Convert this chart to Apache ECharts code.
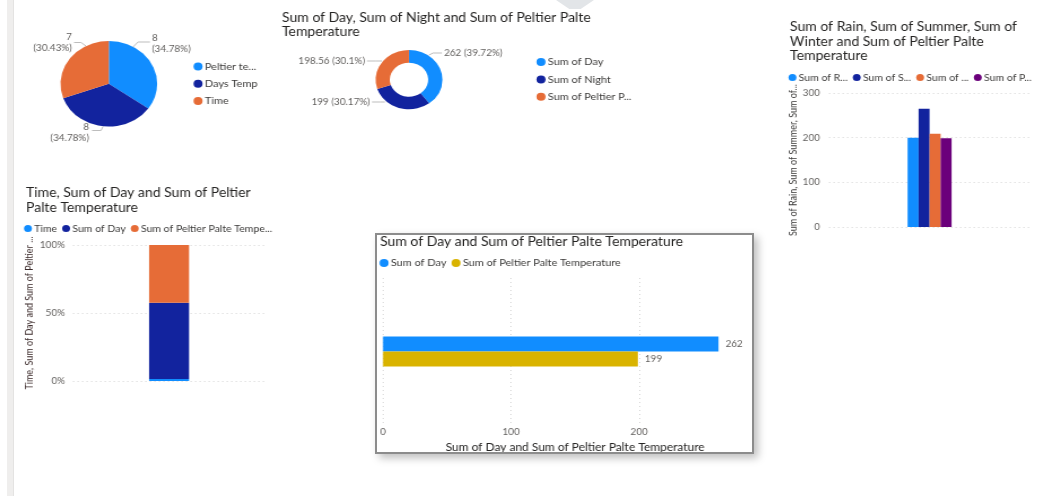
<!DOCTYPE html>
<html><head><meta charset="utf-8">
<script src="https://cdn.jsdelivr.net/npm/echarts@6/dist/echarts.min.js"></script>
<style>
html,body{margin:0;padding:0;background:#fff;width:1053px;height:496px;overflow:hidden;position:relative;font-family:Lato}
.p{position:absolute;left:0;top:0;height:496px;transform-origin:0 0}
#strip{position:absolute;left:7px;top:0;width:6px;height:496px;background:#efeeed;border-right:1px solid #e4e3e2}
#chev{position:absolute;left:556px;top:0;width:38px;height:9px;background:#e2e5e8;clip-path:polygon(0 0,100% 0,65% 100%,35% 100%)}
#box{position:absolute;left:375px;top:233px;width:375px;height:217px;border:2px solid #8c8c8c;box-shadow:4px 4px 8px rgba(0,0,0,.25);background:#fff;overflow:hidden}
</style></head><body>
<div id="strip"></div><div id="chev"></div>
<div id="c1" class="p"></div>
<div id="c2" class="p"></div>
<div id="c3" class="p"></div>
<div id="c4" class="p"></div>
<div id="box"><div id="c5" class="p" style="height:217px"></div></div>
<script>
// ---- data ----
const pieNames = ['Peltier te...', 'Days Temp', 'Time'];
const pieValues = [8, 8, 7];

const donutNames = ['Sum of Day', 'Sum of Night', 'Sum of Peltier Palte Temperature'];
const donutValues = [262, 199, 198.56];

const stackNames = ['Time', 'Sum of Day', 'Sum of Peltier Palte Temperature'];
const stackValues = [7, 262, 198.56];
const stackTicks = [0, 50, 100];

const colNames = ['Sum of Rain', 'Sum of Summer', 'Sum of Winter', 'Sum of Peltier Palte Temperature'];
const colValues = [200, 265, 209, 198.56];

const hbarNames = ['Sum of Day', 'Sum of Peltier Palte Temperature'];
const hbarValues = [262, 199];

// ---- style / layout ----
// the reference screenshot is stretched horizontally; every chart is drawn in an
// unstretched space and widened with a CSS scaleX
const S = 1.13, PW = 1053;
const X = v => v / S;                 // page x -> chart x
const R = v => (PW - v) / S;          // page right edge -> chart "right"
const FONT = 'Lato';
const TITLE = '#252423', LABEL = '#605E5C', LEG = '#3b3a39';
const C = ['#118DFF', '#12239E', '#E66C37', '#6B007B', '#D9B300'];
const grid = { color: '#d4d4d4', type: [1, 3], width: 1 };
const TS = 12.4;

// outside-label placement (Power BI style callouts), page coordinates
const pieLabelLayout = [
  { x: 152, y: 43.5, align: 'left', line: [[133, 47], [138, 42], [150, 42]] },
  { x: 89, y: 132.5, align: 'right', line: [[103, 126.5], [101, 130.5], [92, 130.5]] },
  { x: 72, y: 42.5, align: 'right', line: [[86, 46], [81, 42.5], [74, 42.5]] }
];
const donutLabelLayout = [
  { x: 444, y: 53, align: 'left', line: [[429, 55], [433, 53], [442, 53]] },
  { x: 370, y: 102, align: 'right', line: [[385, 102], [380, 102], [372, 102]] },
  { x: 365, y: 61, align: 'right', line: [[382, 61], [376, 61], [367, 61]] }
];
function layoutFrom(arr) {
  return p => {
    const l = arr[p.dataIndex];
    return { x: X(l.x), y: l.y, align: l.align, verticalAlign: 'middle',
             labelLinePoints: l.line.map(q => [X(q[0]), q[1]]) };
  };
}
function pct(v, arr) { const t = arr.reduce((a, b) => a + b, 0); return +(v / t * 100).toFixed(2); }

function mk(id, w, opt) {
  const el = document.getElementById(id);
  el.style.width = w + 'px';
  el.style.transform = 'scaleX(' + S + ')';
  const ch = echarts.init(el);
  ch.setOption(Object.assign({ animation: false, textStyle: { fontFamily: FONT } }, opt));
}
const W = PW / S;

// ---- chart 1: pie ----
mk('c1', W, {
  legend: {
    orient: 'vertical', left: X(193.5), top: 61.5, padding: 0, itemGap: 7.3, icon: 'circle', itemWidth: 8, itemHeight: 9,
    textStyle: { fontSize: 9.7, color: LEG, fontFamily: FONT, padding: [0, 0, 0, -3] },
    data: pieNames
  },
  series: [{
    type: 'pie', center: [X(108.8), 83.8], radius: 42.8, startAngle: 90, clockwise: true,
    data: pieNames.map((n, i) => ({ name: n, value: pieValues[i], itemStyle: { color: C[i] } })),
    label: {
      color: LABEL, fontSize: 8.8, lineHeight: 11.5, fontFamily: FONT, overflow: 'none',
      formatter: p => p.value + '\n(' + pct(p.value, pieValues) + '%)'
    },
    labelLine: { show: true, lineStyle: { color: '#bdbdbd' } },
    labelLayout: layoutFrom(pieLabelLayout)
  }]
});

// ---- chart 2: donut ----
mk('c2', W, {
  title: {
    text: 'Sum of Day, Sum of Night and Sum of Peltier Palte\nTemperature', left: X(282), top: 11, padding: 0,
    textStyle: { fontSize: TS, fontWeight: 'normal', color: TITLE, lineHeight: 14, fontFamily: FONT }
  },
  legend: {
    orient: 'vertical', left: X(536.5), top: 57, padding: 0, itemGap: 7.4, icon: 'circle', itemWidth: 8, itemHeight: 9,
    textStyle: { fontSize: 9.7, color: LEG, fontFamily: FONT, width: X(86), overflow: 'truncate', ellipsis: '...', padding: [0, 0, 0, -3] },
    data: donutNames
  },
  series: [{
    type: 'pie', center: [X(409), 79.7], radius: [17, 29.6], startAngle: 90, clockwise: true,
    data: donutNames.map((n, i) => ({ name: n, value: donutValues[i], itemStyle: { color: C[i] } })),
    label: {
      color: LABEL, fontSize: 8.8, fontFamily: FONT, overflow: 'none',
      formatter: p => p.value + ' (' + pct(p.value, donutValues) + '%)'
    },
    labelLine: { show: true, lineStyle: { color: '#bdbdbd' } },
    labelLayout: layoutFrom(donutLabelLayout)
  }]
});

// ---- chart 3: 100% stacked column ----
const stackTotal = stackValues.reduce((a, b) => a + b, 0);
mk('c3', W, {
  title: {
    text: 'Time, Sum of Day and Sum of Peltier\nPalte Temperature', left: X(26), top: 186, padding: 0,
    textStyle: { fontSize: TS, fontWeight: 'normal', color: TITLE, lineHeight: 14.5, fontFamily: FONT }
  },
  legend: {
    left: X(24), top: 224, padding: 0, itemGap: 4.5, icon: 'circle', itemWidth: 7, itemHeight: 8,
    textStyle: { fontSize: 9.3, color: LEG, fontFamily: FONT, width: X(135), overflow: 'truncate', ellipsis: '...', padding: [0, 0, 0, -3] },
    data: stackNames
  },
  grid: { left: X(73), right: R(265), top: 245, bottom: 115, outerBoundsMode: 'none' },
  xAxis: { type: 'category', data: [''], axisLine: { show: false }, axisTick: { show: false }, axisLabel: { show: false } },
  yAxis: {
    type: 'value', min: stackTicks[0], max: stackTicks[stackTicks.length - 1], interval: stackTicks[1] - stackTicks[0],
    axisLabel: { formatter: '{value}%', color: LABEL, fontSize: 8.8, margin: 7, fontFamily: FONT },
    splitLine: { lineStyle: grid },
    name: 'Time, Sum of Day and Sum of Peltier ...', nameLocation: 'middle', nameGap: X(38),
    nameTextStyle: { fontSize: 9, color: '#3b2a2a', fontFamily: FONT }
  },
  series: stackNames.map((n, i) => ({
    type: 'bar', name: n, stack: 's', barWidth: X(40),
    itemStyle: { color: C[i] },
    data: [stackValues[i] / stackTotal * 100]
  }))
});

// ---- chart 4: clustered column ----
mk('c4', W, {
  title: {
    text: 'Sum of Rain, Sum of Summer, Sum of\nWinter and Sum of Peltier Palte\nTemperature', left: X(790), top: 20, padding: 0,
    textStyle: { fontSize: TS, fontWeight: 'normal', color: TITLE, lineHeight: 14.5, fontFamily: FONT }
  },
  legend: {
    left: X(788.5), top: 73, padding: 0, itemGap: 4.5, icon: 'circle', itemWidth: 7, itemHeight: 8,
    textStyle: { fontSize: 9.3, color: LEG, fontFamily: FONT, width: X(51.5), overflow: 'truncate', ellipsis: '...', padding: [0, 0, 0, -3] },
    data: colNames
  },
  grid: { left: X(829), right: R(1030), top: 93, bottom: 269, outerBoundsMode: 'none' },
  xAxis: { type: 'category', data: [''], axisLine: { show: false }, axisTick: { show: false }, axisLabel: { show: false } },
  yAxis: {
    type: 'value', min: 0, max: 300, interval: 100,
    axisLabel: { color: LABEL, fontSize: 8.8, margin: 8, fontFamily: FONT },
    splitLine: { lineStyle: grid },
    name: 'Sum of Rain, Sum of Summer, Sum of...', nameLocation: 'middle', nameGap: X(30),
    nameTextStyle: { fontSize: 9, color: '#3b3a39', fontFamily: FONT }
  },
  series: colNames.map((n, i) => ({
    type: 'bar', name: n, barWidth: X(11), barGap: '0%',
    itemStyle: { color: C[i] },
    data: [colValues[i]]
  }))
});

// ---- chart 5: clustered bar (inside the framed box; box content origin is page (377,235)) ----
const BX = 377;
const B5 = v => (v - BX) / S;
mk('c5', X(375), {
  title: {
    text: 'Sum of Day and Sum of Peltier Palte Temperature', left: B5(380), top: 1, padding: 0,
    textStyle: { fontSize: TS, fontWeight: 'normal', color: TITLE, fontFamily: FONT }
  },
  legend: {
    left: B5(379.5), top: 23, padding: 0, itemGap: 4.5, icon: 'circle', itemWidth: 8, itemHeight: 9,
    textStyle: { fontSize: 9.7, color: LEG, fontFamily: FONT, padding: [0, 0, 0, -3] },
    data: hbarNames
  },
  grid: { left: B5(383), right: X(375) - B5(383 + 384), top: 43, bottom: 27, outerBoundsMode: 'none' },
  yAxis: { type: 'category', data: [''], inverse: true, axisLine: { show: false }, axisTick: { show: false }, axisLabel: { show: false } },
  xAxis: {
    type: 'value', min: 0, max: 300, interval: 100,
    axisLabel: { color: LABEL, fontSize: 8.8, margin: 3, fontFamily: FONT },
    splitLine: { lineStyle: grid },
    name: 'Sum of Day and Sum of Peltier Palte Temperature', nameLocation: 'middle', nameGap: 12,
    nameTextStyle: { fontSize: 10.6, color: TITLE, fontFamily: FONT }
  },
  series: hbarNames.map((n, i) => ({
    type: 'bar', name: n, barWidth: 15, barGap: '0%',
    itemStyle: { color: i === 0 ? C[0] : C[4] },
    label: { show: true, position: 'right', color: LABEL, fontSize: 8.8, distance: X(7), fontFamily: FONT },
    data: [hbarValues[i]]
  }))
});
</script>
</body></html>
